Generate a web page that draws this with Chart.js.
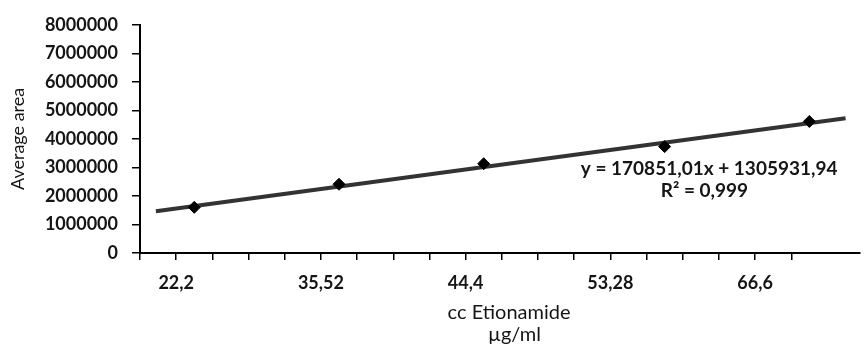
<!DOCTYPE html>
<html>
<head>
<meta charset="utf-8">
<script src="https://cdn.jsdelivr.net/npm/chart.js@4"></script>
<style>
    html, body { margin: 0; padding: 0; background: #fff; }
</style>
</head>
<body>
<canvas id="myChart" width="867" height="345"></canvas>
<script>
"use strict";

// x axis is a plain slot scale, labels only sit on a few slots
const tickLabels = ["22,2", "35,52", "44,4", "53,28", "66,6"];
const tickSlots = [1, 5, 9, 13, 17];

// measured points
const pointSlots = [1.5, 5.5, 9.5, 14.5, 18.5];
const averageArea = [1600000, 2410000, 3130000, 3730000, 4610000];

// trend line ends
const trendSlots = [0.44, 19.5];
const trendArea = [1466000, 4723000];

const equationLines = ["y = 170851,01x + 1305931,94", "R\u00b2 = 0,999"];
const xTitleLines = ["cc Etionamide", "\u00b5g/ml"];

const textColor = "#151515";

// equation text and the x title (the title sits a bit right of the axis centre)
const textPlugin = {
    id: "texts",
    afterDraw(chart) {
        const ctx = chart.ctx;
        const xs = chart.scales.x;
        const ys = chart.scales.y;
        ctx.save();
        ctx.fillStyle = textColor;
        ctx.textAlign = "center";
        ctx.textBaseline = "middle";
        ctx.font = "bold 19px Lato";
        ctx.fillText(equationLines[0], xs.getPixelForValue(15.73), ys.getPixelForValue(2940000));
        ctx.fillText(equationLines[1], xs.getPixelForValue(15.6), ys.getPixelForValue(2180000));
        ctx.font = "20px Lato";
        ctx.fillText(xTitleLines[0], xs.getPixelForValue(10.2), chart.height - 32);
        ctx.fillText(xTitleLines[1], xs.getPixelForValue(10.35), chart.height - 10);
        ctx.restore();
    },
};

const renderChart = () => {
    const ctx = document.getElementById("myChart").getContext("2d");

    new Chart(ctx, {
        type: "scatter",
        data: {
            datasets: [
                {
                    label: "Average area",
                    data: pointSlots.map((x, i) => ({ x: x, y: averageArea[i] })),
                    pointStyle: "rectRot",
                    pointRadius: 6,
                    backgroundColor: "#000000",
                    borderColor: "#000000",
                    borderWidth: 1,
                    order: 1,
                },
                {
                    label: "Linear",
                    type: "line",
                    data: trendSlots.map((x, i) => ({ x: x, y: trendArea[i] })),
                    showLine: true,
                    pointRadius: 0,
                    borderColor: "#333333",
                    borderWidth: 4,
                    order: 2,
                },
            ],
        },
        options: {
            responsive: false,
            animation: false,
            layout: {
                padding: { top: 21, left: 0, right: 0, bottom: 0 },
            },
            plugins: {
                legend: { display: false },
                tooltip: { enabled: false },
            },
            scales: {
                x: {
                    type: "linear",
                    min: 0,
                    max: 19.9,
                    afterBuildTicks: (axis) => {
                        axis.ticks = axis.ticks.filter((t) => Number.isInteger(t.value));
                    },
                    afterFit: (axis) => {
                        axis.height = 92;
                    },
                    ticks: {
                        stepSize: 1,
                        autoSkip: false,
                        maxRotation: 0,
                        padding: 12,
                        color: textColor,
                        font: { family: "Lato", size: 18, weight: "bold" },
                        callback: (value) => {
                            const k = tickSlots.indexOf(value);
                            return k >= 0 ? tickLabels[k] : "";
                        },
                    },
                    grid: {
                        drawOnChartArea: false,
                        drawTicks: true,
                        tickLength: 7,
                        color: "#000000",
                        lineWidth: 1.5,
                    },
                    border: { display: true, color: "#000000", width: 2 },
                },
                y: {
                    min: 0,
                    max: 8000000,
                    afterFit: (axis) => {
                        axis.width = 140;
                    },
                    ticks: {
                        stepSize: 1000000,
                        padding: 14,
                        color: textColor,
                        font: { family: "Lato", size: 18, weight: "bold" },
                        callback: (value) => String(value),
                    },
                    grid: {
                        drawOnChartArea: false,
                        drawTicks: true,
                        tickLength: 8,
                        color: "#000000",
                        lineWidth: 1.5,
                    },
                    border: { display: true, color: "#000000", width: 2 },
                    title: {
                        display: true,
                        text: "Average area",
                        color: textColor,
                        font: { family: "Lato", size: 18, lineHeight: 1.2 },
                        padding: { top: 7, bottom: 0 },
                    },
                },
            },
        },
        plugins: [textPlugin],
    });
};

window.onload = () => {
    renderChart();
};
</script>
</body>
</html>
